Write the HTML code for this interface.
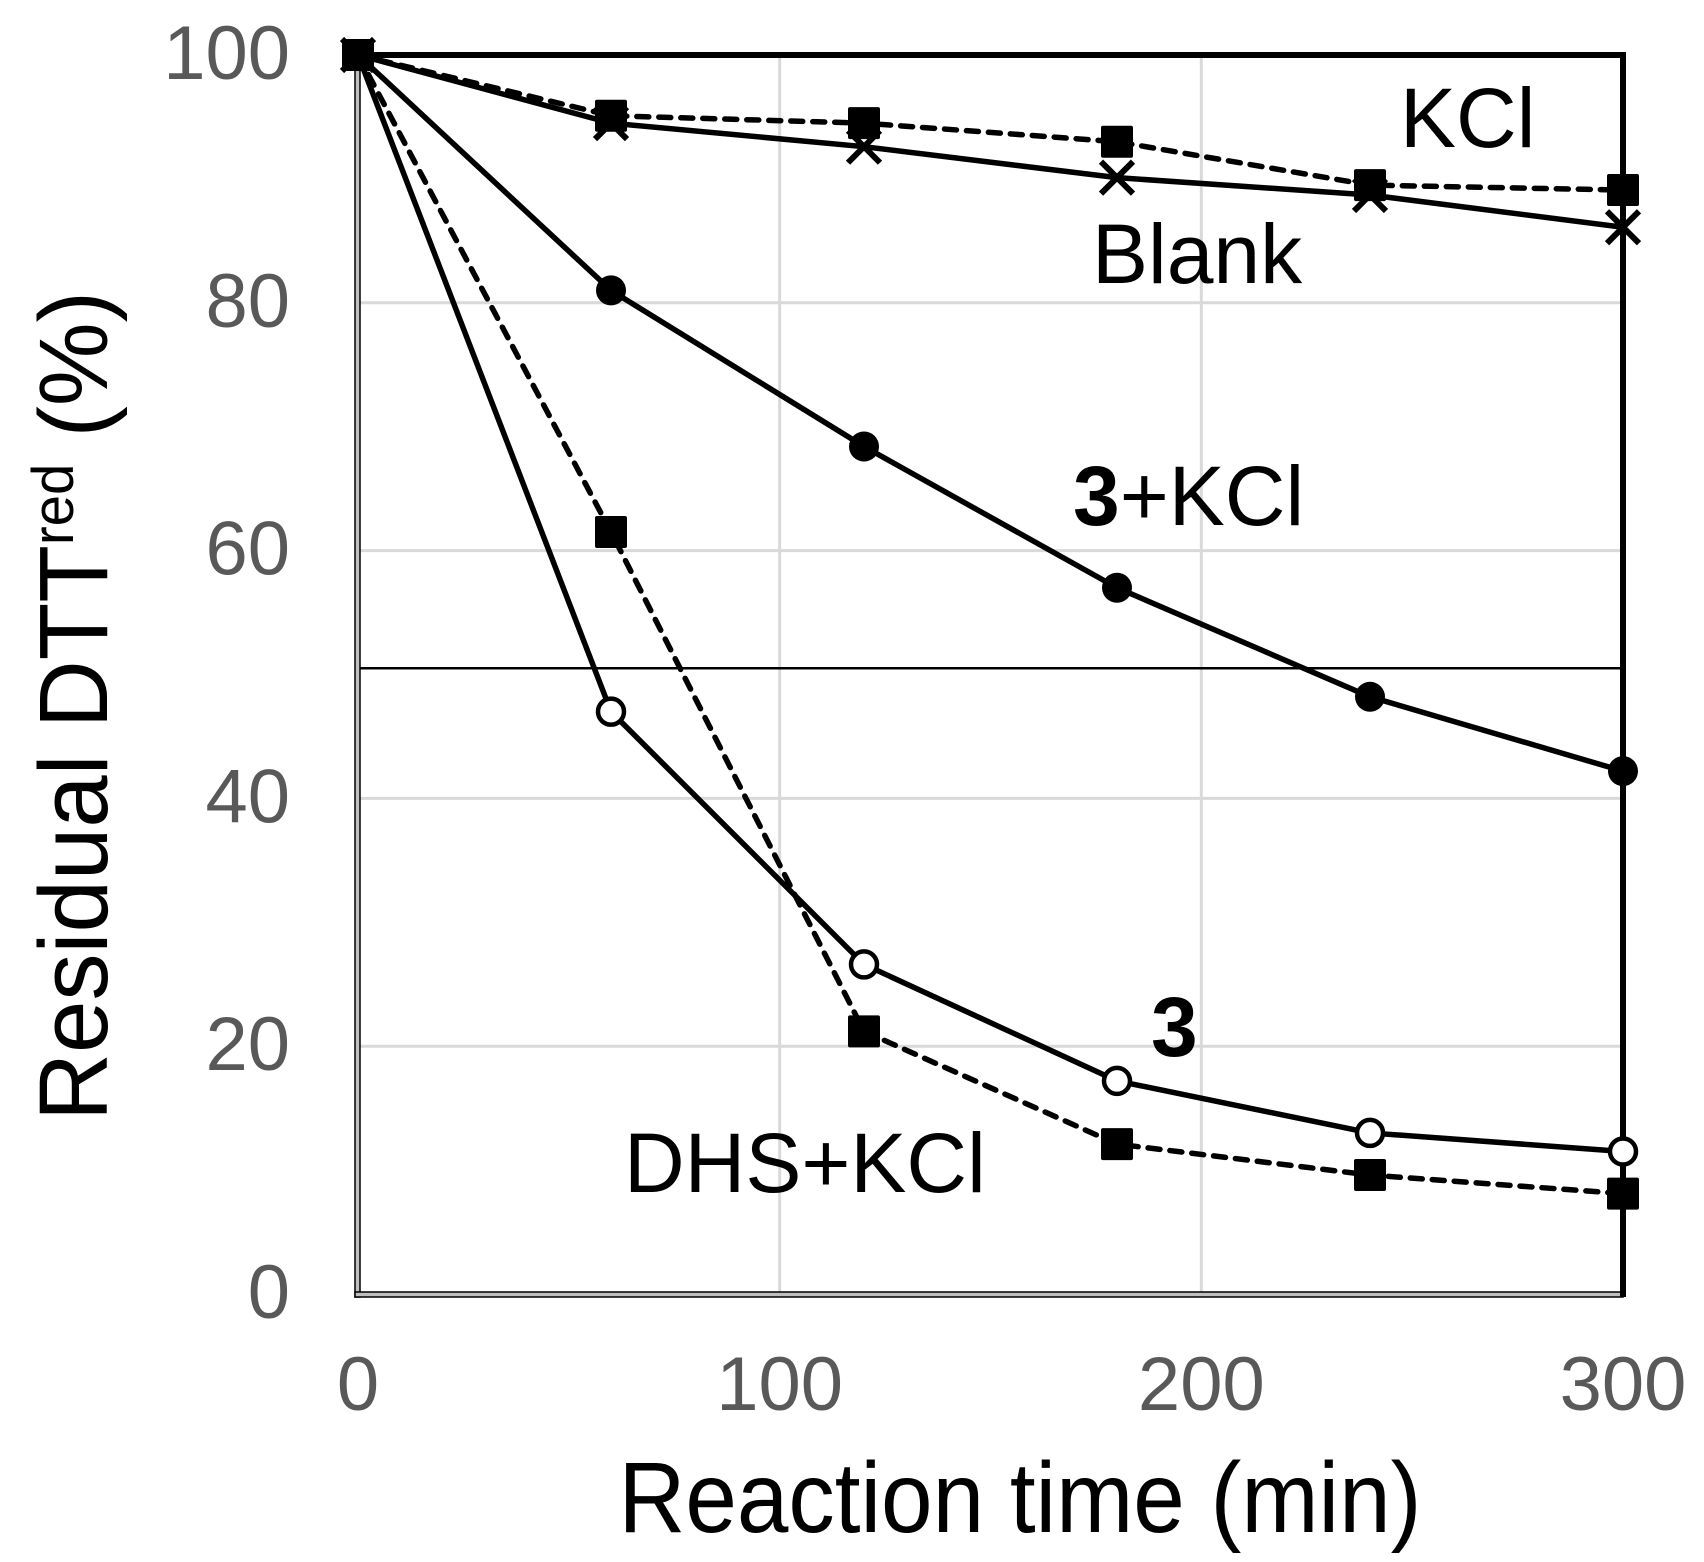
<!DOCTYPE html>
<html><head><meta charset="utf-8">
<style>
html,body{margin:0;padding:0;background:#fff;}
svg{display:block;}
text{font-family:"Liberation Sans",Arial,sans-serif;}
</style></head>
<body>
<svg id="chart" width="1704" height="1562" viewBox="0 0 1704 1562" xmlns="http://www.w3.org/2000/svg">
<g id="grid"></g>
<g id="axes"></g>
<g id="series"></g>
<g id="labels">
<text x="1400" y="147" font-size="84">KCl</text>
<text x="1092" y="283" font-size="84">Blank</text>
<text x="1073" y="525" font-size="84"><tspan font-weight="bold">3</tspan>+KCl</text>
<text x="1151" y="1056" font-size="84" font-weight="bold">3</text>
<text x="624" y="1192" font-size="84">DHS+KCl</text>
<text x="1020" y="1532" font-size="100" text-anchor="middle" textLength="803" lengthAdjust="spacingAndGlyphs">Reaction time (min)</text>
<text transform="translate(107,706) rotate(-90)" font-size="97" text-anchor="middle" textLength="830" lengthAdjust="spacingAndGlyphs">Residual DTT<tspan font-size="58" dy="-34">red</tspan><tspan dy="34"> (%)</tspan></text>
</g>
</svg>
<script>
const times = [0, 60, 120, 180, 240, 300];
const blankVals = [100, 94.5, 92.6, 90.1, 88.7, 86.1];
const kclVals = [100, 95.1, 94.5, 93.0, 89.5, 89.1];
const threeKclVals = [100, 81.0, 68.4, 57.0, 48.2, 42.2];
const threeVals = [100, 47.0, 26.6, 17.2, 13.0, 11.5];
const dhsKclVals = [100, 61.5, 21.2, 12.1, 9.6, 8.1];
const yTicks = [0, 20, 40, 60, 80, 100];
const xTicks = [0, 100, 200, 300];
const refLine = [50.5];

const NS = 'http://www.w3.org/2000/svg';
const X0 = 358, X1 = 1623, Y0 = 1294, Y1 = 55;
function sx(v){ return X0 + (v - 0) / 300 * (X1 - X0); }
function sy(v){ return Y0 - (v - 0) / 100 * (Y0 - Y1); }
function mk(tag, attrs, parent){
  const e = document.createElementNS(NS, tag);
  for (const k in attrs) e.setAttribute(k, attrs[k]);
  parent.appendChild(e);
  return e;
}
const grid = document.getElementById('grid');
const axes = document.getElementById('axes');
const series = document.getElementById('series');

yTicks.forEach(t => {
  if (t > 0 && t < 100) {
    const g = mk('line', {x1: X0, x2: X1, y1: sy(t), y2: sy(t), stroke: '#d9d9d9', 'stroke-width': 3}, grid);
    
    
  }
  const lb = mk('text', {x: 290, y: sy(t) + 24, 'font-size': 76, fill: '#595959', 'text-anchor': 'end'}, axes);
  lb.textContent = t;
  
  
});
xTicks.forEach(t => {
  if (t > 0 && t < 300) {
    const g = mk('line', {x1: sx(t), x2: sx(t), y1: Y1, y2: Y0, stroke: '#d9d9d9', 'stroke-width': 3}, grid);
    
    
  }
  const lb = mk('text', {x: sx(t), y: 1410, 'font-size': 76, fill: '#595959', 'text-anchor': 'middle'}, axes);
  lb.textContent = t;
  
  
});
refLine.forEach(v => {
  const r = mk('line', {x1: X0, x2: X1, y1: sy(v), y2: sy(v), stroke: '#000', 'stroke-width': 2.5}, grid);
  
  
});
let a = mk('rect', {x: X0 - 3, y: Y1, width: 5, height: Y0 - Y1 + 3, fill: '#bfbfbf', stroke: '#000', 'stroke-width': 1.5}, axes);


a = mk('rect', {x: X0 - 3, y: Y0 - 2, width: X1 - X0 + 3, height: 5, fill: '#bfbfbf', stroke: '#000', 'stroke-width': 1.5}, axes);


a = mk('line', {x1: X0, x2: X1 + 3, y1: Y1, y2: Y1, stroke: '#000', 'stroke-width': 6}, axes);


a = mk('line', {x1: X1, x2: X1, y1: Y1 - 3, y2: Y0 + 3, stroke: '#000', 'stroke-width': 6}, axes);



function drawSeries(vals, name, dashed, marker){
  const g = mk('g', {}, series);
  
  
  const pts = vals.map((v, i) => sx(times[i]) + ',' + sy(v)).join(' ');
  const l = mk('polyline', {points: pts, fill: 'none', stroke: '#000', 'stroke-width': 5.5, 'stroke-linejoin': 'round', 'stroke-linecap': 'round'}, g);
  if (dashed) l.setAttribute('stroke-dasharray', '12 10');
  
  
  vals.forEach((v, i) => {
    const cx = sx(times[i]), cy = sy(v);
    let m;
    if (marker === 'square') {
      m = mk('rect', {x: cx - 16, y: cy - 16, width: 32, height: 32, rx: 2, fill: '#000'}, g);
    } else if (marker === 'circle') {
      m = mk('circle', {cx: cx, cy: cy, r: 15, fill: '#000'}, g);
    } else if (marker === 'open') {
      m = mk('circle', {cx: cx, cy: cy, r: 13, fill: '#fff', stroke: '#000', 'stroke-width': 4.5}, g);
    } else {
      m = mk('path', {d: 'M' + (cx - 16) + ' ' + (cy - 16) + 'L' + (cx + 16) + ' ' + (cy + 16) + 'M' + (cx + 16) + ' ' + (cy - 16) + 'L' + (cx - 16) + ' ' + (cy + 16), stroke: '#000', 'stroke-width': 6, fill: 'none'}, g);
    }
    
    
  });
}
drawSeries(threeVals, 'series-3', false, 'open');
drawSeries(dhsKclVals, 'series-dhs-kcl', true, 'square');
drawSeries(threeKclVals, 'series-3-kcl', false, 'circle');
drawSeries(blankVals, 'series-blank', false, 'cross');
drawSeries(kclVals, 'series-kcl', true, 'square');
</script>
</body></html>
